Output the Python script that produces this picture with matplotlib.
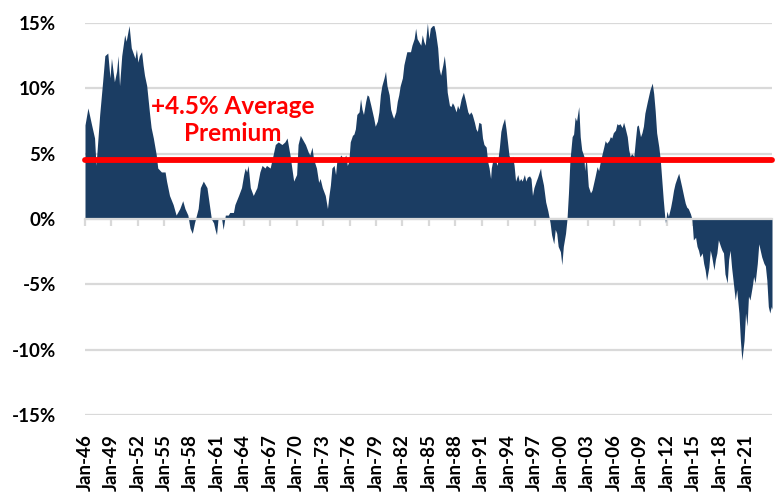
import matplotlib.pyplot as plt
import pandas as pd

# Readings of the premium (%) taken off the chart, by month
dates = [
    "1946-01", "1946-05", "1946-10", "1947-02", "1947-04", "1947-09",
    "1948-01", "1948-04", "1948-08", "1948-11", "1949-01", "1949-05",
    "1949-08", "1949-10", "1949-12", "1950-03", "1950-07", "1950-09",
    "1951-01", "1951-04", "1951-09", "1951-11", "1952-01", "1952-03",
    "1952-06", "1952-08", "1952-10", "1953-01", "1953-05", "1953-07",
    "1953-10", "1954-02", "1954-04", "1954-09", "1955-02", "1955-04",
    "1955-08", "1956-01", "1956-05", "1956-10", "1957-02", "1957-05",
    "1957-09", "1957-12", "1958-03", "1958-06", "1958-11", "1959-02",
    "1959-06", "1959-11", "1960-03", "1960-05", "1960-08", "1960-10",
    "1960-12", "1961-02", "1961-05", "1961-07", "1961-09", "1961-12",
    "1962-04", "1962-06", "1962-11", "1963-01", "1963-06", "1963-10",
    "1964-01", "1964-03", "1964-05", "1964-07", "1964-10", "1965-02",
    "1965-07", "1965-11", "1966-02", "1966-06", "1966-08", "1967-01",
    "1967-05", "1967-08", "1967-12", "1968-05", "1968-09", "1968-12",
    "1969-04", "1969-06", "1969-09", "1970-01", "1970-03", "1970-06",
    "1970-08", "1971-01", "1971-05", "1971-07", "1971-10", "1971-12",
    "1972-04", "1972-07", "1972-09", "1972-12", "1973-02", "1973-04",
    "1973-07", "1973-09", "1973-11", "1974-01", "1974-04", "1974-06",
    "1974-08", "1974-10", "1975-01", "1975-05", "1975-08", "1975-10",
    "1975-12", "1976-02", "1976-05", "1976-07", "1976-09", "1976-11",
    "1977-02", "1977-04", "1977-06", "1977-08", "1977-11", "1978-01",
    "1978-03", "1978-06", "1978-08", "1978-10", "1978-12", "1979-03",
    "1979-05", "1979-07", "1979-09", "1979-12", "1980-02", "1980-04",
    "1980-07", "1980-09", "1980-11", "1981-01", "1981-04", "1981-06",
    "1981-08", "1981-10", "1982-01", "1982-03", "1982-05", "1982-07",
    "1982-12", "1983-02", "1983-05", "1983-07", "1983-09", "1983-11",
    "1984-02", "1984-04", "1984-06", "1984-08", "1984-11", "1985-01",
    "1985-03", "1985-06", "1985-08", "1985-10", "1986-01", "1986-03",
    "1986-05", "1986-08", "1986-10", "1986-12", "1987-02", "1987-05",
    "1987-07", "1987-09", "1987-11", "1988-02", "1988-04", "1988-06",
    "1988-09", "1988-12", "1989-03", "1989-06", "1989-08", "1989-10",
    "1989-12", "1990-03", "1990-05", "1990-07", "1990-09", "1990-12",
    "1991-02", "1991-04", "1991-07", "1991-09", "1991-11", "1992-01",
    "1992-02", "1992-05", "1992-07", "1992-10", "1993-01", "1993-03",
    "1993-05", "1993-08", "1993-10", "1993-12", "1994-02", "1994-05",
    "1994-07", "1994-09", "1994-11", "1995-02", "1995-04", "1995-06",
    "1995-08", "1995-11", "1996-01", "1996-03", "1996-06", "1996-08",
    "1996-10", "1996-12", "1997-03", "1997-05", "1997-09", "1997-10",
    "1998-01", "1998-04", "1998-07", "1998-09", "1998-10", "1998-12",
    "1999-03", "1999-05", "1999-07", "1999-09", "1999-12", "2000-02",
    "2000-04", "2000-07", "2000-09", "2000-11", "2001-01", "2001-04",
    "2001-06", "2001-08", "2001-10", "2002-01", "2002-03", "2002-05",
    "2002-08", "2002-09", "2002-11", "2002-12", "2003-02", "2003-05",
    "2003-07", "2003-09", "2003-11", "2004-02", "2004-04", "2004-06",
    "2004-08", "2004-11", "2005-01", "2005-03", "2005-06", "2005-08",
    "2005-10", "2005-12", "2006-03", "2006-05", "2006-07", "2006-09",
    "2006-12", "2007-02", "2007-04", "2007-07", "2007-09", "2007-11",
    "2008-01", "2008-04", "2008-06", "2008-08", "2008-10", "2009-01",
    "2009-03", "2009-05", "2009-07", "2009-10", "2009-12", "2010-02",
    "2010-05", "2010-07", "2010-09", "2010-11", "2011-02", "2011-04",
    "2011-06", "2011-08", "2011-10", "2011-11", "2012-01", "2012-03",
    "2012-06", "2012-08", "2012-10", "2012-12", "2013-03", "2013-05",
    "2013-07", "2013-09", "2013-12", "2014-02", "2014-04", "2014-06",
    "2014-09", "2014-11", "2015-01", "2015-04", "2015-06", "2015-08",
    "2015-10", "2016-01", "2016-03", "2016-05", "2016-07", "2016-10",
    "2016-12", "2017-02", "2017-05", "2017-07", "2017-09", "2017-11",
    "2018-02", "2018-04", "2018-06", "2018-08", "2018-11", "2019-01",
    "2019-03", "2019-05", "2019-08", "2019-10", "2019-12", "2020-03",
    "2020-05", "2020-07", "2020-08", "2020-10", "2020-12", "2021-02",
    "2021-04", "2021-06", "2021-09", "2021-11", "2022-01", "2022-04",
    "2022-06", "2022-08", "2022-10", "2023-01", "2023-03", "2023-05",
    "2023-07", "2023-09", "2023-11", "2023-12",
]

premium = [
    7.2, 8.5, 7.2, 6.2, 4.1, 8.0,
    10.5, 12.5, 12.7, 10.8, 12.3, 10.5,
    11.3, 12.5, 10.2, 12.5, 14.1, 13.6,
    14.8, 13.1, 12.3, 13.0, 12.0, 12.5,
    12.8, 11.8, 11.0, 10.2, 8.0, 7.0,
    6.2, 4.9, 3.9, 3.6, 3.6, 2.9,
    1.8, 1.1, 0.3, 0.8, 1.4, 0.8,
    0.3, -0.7, -1.1, -0.3, 0.8, 2.4,
    2.9, 2.4, 0.8, 0.0, -0.3, -0.8,
    -1.2, 0.0, 0.1, 0.0, -0.8, 0.3,
    0.3, 0.5, 0.5, 1.1, 1.8, 2.4,
    3.4, 3.9, 3.6, 4.1, 2.4, 1.8,
    2.4, 3.6, 4.1, 3.9, 4.1, 3.9,
    4.9, 5.7, 5.9, 5.7, 5.9, 6.2,
    4.9, 4.1, 2.9, 3.4, 5.7, 6.4,
    6.2, 5.7, 5.1, 4.9, 5.5, 4.6,
    3.9, 2.8, 3.1, 2.4, 2.1, 1.8,
    0.8, 1.8, 2.6, 3.9, 4.1, 3.4,
    4.6, 4.4, 4.9, 4.6, 4.9, 4.1,
    4.4, 5.9, 6.4, 6.5, 6.9, 8.0,
    8.2, 9.2, 8.4, 8.0, 9.0, 9.5,
    9.4, 8.7, 8.2, 7.7, 7.1, 7.5,
    8.2, 9.5, 10.2, 10.8, 11.3, 10.2,
    9.5, 8.4, 8.0, 7.7, 8.2, 9.0,
    9.5, 10.2, 10.8, 11.8, 12.3, 12.8,
    12.8, 13.3, 13.8, 14.6, 13.8, 13.6,
    13.3, 14.1, 13.6, 13.3, 15.0, 13.8,
    14.6, 14.8, 14.8, 14.3, 13.1, 11.5,
    11.0, 11.8, 12.5, 11.5, 9.7, 8.7,
    8.6, 8.9, 8.7, 8.2, 8.7, 8.4,
    9.2, 9.7, 9.0, 8.2, 8.0, 8.2,
    8.0, 7.4, 6.9, 6.7, 7.4, 7.3,
    6.2, 5.7, 5.5, 4.4, 3.9, 3.1,
    3.9, 4.8, 4.6, 4.1, 5.5, 6.7,
    7.2, 7.7, 6.9, 5.9, 4.9, 4.4,
    4.8, 4.1, 2.9, 3.4, 2.9, 3.1,
    2.9, 3.4, 2.9, 3.2, 3.3, 3.1,
    1.8, 2.4, 2.9, 3.2, 3.9, 3.4,
    2.6, 1.3, 0.6, 0.0, -0.3, -1.2,
    -1.9, -0.8, -1.1, -2.1, -2.5, -3.5,
    -2.1, -1.1, 0.0, 2.0, 4.5, 6.3,
    6.5, 7.8, 7.5, 8.6, 6.3, 5.3,
    4.8, 3.7, 4.8, 4.1, 2.5, 2.0,
    2.2, 2.7, 3.2, 4.0, 3.7, 4.3,
    4.8, 5.5, 6.0, 5.8, 6.0, 6.3,
    6.2, 6.6, 6.8, 7.3, 7.2, 7.3,
    7.0, 7.4, 7.0, 6.3, 5.3, 4.8,
    5.0, 4.8, 6.0, 7.1, 7.2, 6.3,
    6.6, 7.1, 8.1, 8.9, 9.4, 9.9,
    10.4, 9.6, 8.3, 6.6, 5.5, 4.5,
    3.0, 1.5, 0.2, -0.3, 0.6, 0.2,
    0.9, 1.5, 2.2, 2.7, 3.2, 3.5,
    3.0, 2.5, 1.7, 1.2, 0.9, 0.8,
    0.4, 0.0, -1.6, -1.4, -2.1, -2.4,
    -2.9, -2.6, -3.4, -3.9, -4.7, -3.7,
    -2.4, -2.9, -3.9, -3.1, -2.6, -1.6,
    -2.1, -2.4, -2.6, -4.2, -4.9, -3.1,
    -2.4, -3.7, -5.2, -6.2, -5.4, -7.2,
    -9.3, -10.8, -10.3, -9.3, -7.2, -8.2,
    -5.9, -6.2, -5.2, -4.4, -4.9, -3.4,
    -1.9, -2.4, -2.9, -3.4, -3.6, -4.7,
    -6.7, -7.2, -6.7, -6.9,
]

average_premium = 4.5
annotation = "+4.5% Average\nPremium"
y_ticks = [-15, -10, -5, 0, 5, 10, 15]

NAVY = "#1b3d63"
GRID = "#d9d9d9"

assert len(dates) == len(premium)

plt.rcParams["font.family"] = ["Lato", "DejaVu Sans"]
plt.rcParams["font.weight"] = "bold"

d = pd.to_datetime(dates)
# months since the first observation (Excel-style category axis)
start = d[0]
x = (d.year - start.year) * 12 + (d.month - start.month)
x_end = x[-1]

fig = plt.figure(figsize=(7.8, 4.94), dpi=100)
ax = fig.add_axes([85 / 780, 1 - 415 / 494, (772 - 85) / 780, 392 / 494])

ax.fill_between(x, premium, 0, color=NAVY, lw=0, zorder=1)

ax.set_xlim(0, x_end)
ax.set_ylim(-15, 15)
ax.set_yticks(y_ticks)
ax.set_yticklabels([f"{t}%" for t in y_ticks])
ax.yaxis.grid(True, color=GRID, lw=1.6)
ax.set_axisbelow(True)
ax.tick_params(axis="y", length=0, pad=21, labelsize=13.5)

for s in ["top", "right", "left"]:
    ax.spines[s].set_visible(False)
ax.spines["bottom"].set_position(("data", 0))
ax.spines["bottom"].set_color(GRID)
ax.spines["bottom"].set_linewidth(1.6)

# ticks every 3 years on the zero line, labels at the bottom edge
tick_pos = list(range(0, x_end + 1, 36))
tick_lab = [pd.Timestamp(start) + pd.DateOffset(months=m) for m in tick_pos]
tick_lab = [t.strftime("%b-%y") for t in tick_lab]
ax.set_xticks(tick_pos)
ax.tick_params(axis="x", length=5, width=1.6, color=GRID, labelbottom=False)

sec = ax.secondary_xaxis("bottom")
sec.set_xticks(tick_pos)
sec.set_xticklabels(tick_lab, rotation=90, fontsize=13.5, fontweight="bold")
sec.tick_params(length=0, pad=14)
sec.spines["bottom"].set_visible(False)

ax.plot([0, x_end], [average_premium, average_premium], color="#ff0000",
        lw=4.2, solid_capstyle="round", clip_on=False, zorder=3)

ax.text(201, 7.6, annotation, color="#ff0000", fontsize=17.5,
        fontweight="bold", ha="center", va="center", linespacing=1.2,
        zorder=4)

fig.savefig("out.png", dpi=100)
